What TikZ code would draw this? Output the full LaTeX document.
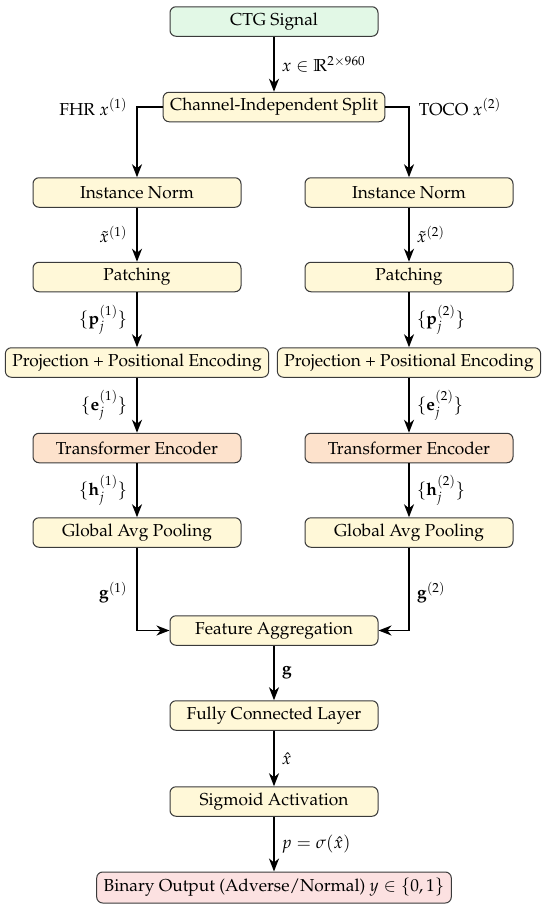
\documentclass[tikz,border=0pt]{standalone}
\usepackage[T1]{fontenc}
\usepackage{mathpazo}
\usetikzlibrary{arrows.meta}
\definecolor{bordc}{HTML}{3A3A3A}
\definecolor{greenf}{HTML}{E2F8E6}
\definecolor{yellowf}{HTML}{FFF8D8}
\definecolor{orangef}{HTML}{FDE2CC}
\definecolor{pinkf}{HTML}{FCE1E1}
\begin{document}
\begin{tikzpicture}[x=1pt,y=-1pt,
  font=\fontsize{17.3}{20}\selectfont,
  box/.style={draw=bordc, line width=1pt, rounded corners=6pt, fill=yellowf,
    minimum width=208pt, minimum height=29.5pt, inner xsep=7pt, inner ysep=0pt, align=center},
  arr/.style={line width=1.6pt, -{Stealth[length=13pt,width=10pt,inset=4pt]}},
  labl/.style={anchor=east, inner sep=0pt, xshift=-9pt},
  labr/.style={anchor=west, inner sep=0pt, xshift=7pt}
]
\useasboundingbox (0,0) rectangle (550,911);
% nodes
\node[box, fill=greenf] (ctg) at (274,21.5) {CTG Signal};
\node[box] (split) at (274,107) {Channel-Independent Split};
\node[box] (in1) at (137,192.5) {Instance Norm};
\node[box] (in2) at (409,192.5) {Instance Norm};
\node[box] (pa1) at (137,277) {Patching};
\node[box] (pa2) at (409,277) {Patching};
\node[box] (pr1) at (137,362.5) {Projection + Positional Encoding};
\node[box] (pr2) at (409,362.5) {Projection + Positional Encoding};
\node[box, fill=orangef] (tr1) at (137,448) {Transformer Encoder};
\node[box, fill=orangef] (tr2) at (409,448) {Transformer Encoder};
\node[box] (gp1) at (137,532.5) {Global Avg Pooling};
\node[box] (gp2) at (409,532.5) {Global Avg Pooling};
\node[box] (fa) at (274,630.5) {Feature Aggregation};
\node[box] (fc) at (274,715.5) {Fully Connected Layer};
\node[box] (sg) at (274,801.5) {Sigmoid Activation};
\node[box, fill=pinkf, minimum height=31pt] (bo) at (274,887.5) {Binary Output (Adverse/Normal) $y \in \{0,1\}$};
% connectors
\draw[arr] (ctg) -- node[labr]{$x \in \mathbb{R}^{2\times 960}$} (split);
\draw[arr] (split.west) -| node[labl, pos=0.5]{FHR $x^{(1)}$} (in1.north);
\draw[arr] (split.east) -| node[labr, pos=0.5, xshift=2pt]{TOCO $x^{(2)}$} (in2.north);
\draw[arr] (in1) -- node[labl]{$\tilde{x}^{(1)}$} (pa1);
\draw[arr] (in2) -- node[labr]{$\tilde{x}^{(2)}$} (pa2);
\draw[arr] (pa1) -- node[labl]{$\{\mathbf{p}_j^{(1)}\}$} (pr1);
\draw[arr] (pa2) -- node[labr]{$\{\mathbf{p}_j^{(2)}\}$} (pr2);
\draw[arr] (pr1) -- node[labl]{$\{\mathbf{e}_j^{(1)}\}$} (tr1);
\draw[arr] (pr2) -- node[labr]{$\{\mathbf{e}_j^{(2)}\}$} (tr2);
\draw[arr] (tr1) -- node[labl]{$\{\mathbf{h}_j^{(1)}\}$} (gp1);
\draw[arr] (tr2) -- node[labr]{$\{\mathbf{h}_j^{(2)}\}$} (gp2);
\draw[arr] (gp1) |- node[labl, pos=0.27]{$\mathbf{g}^{(1)}$} (fa);
\draw[arr] (gp2) |- node[labr, pos=0.27]{$\mathbf{g}^{(2)}$} (fa);
\draw[arr] (fa) -- node[labr]{$\mathbf{g}$} (fc);
\draw[arr] (fc) -- node[labr]{$\hat{x}$} (sg);
\draw[arr] (sg) -- node[labr]{$p = \sigma(\hat{x})$} (bo);
\end{tikzpicture}
\end{document}
